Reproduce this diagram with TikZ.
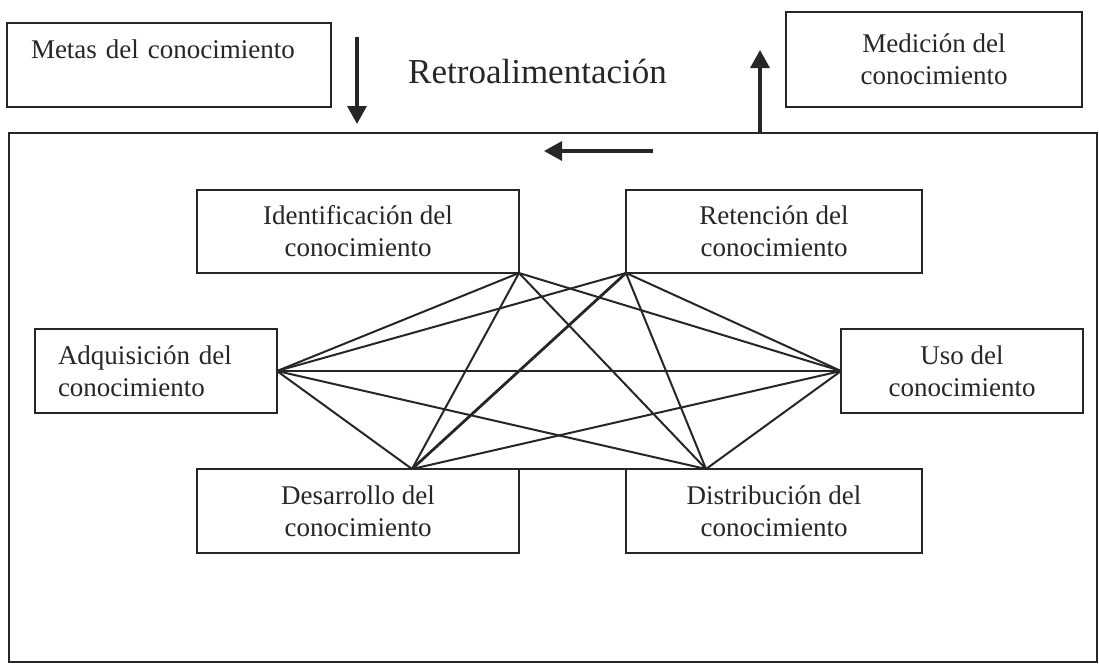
\documentclass[tikz,border=0pt]{standalone}
\usepackage{fontspec}
\setmainfont{Liberation Serif}
\usetikzlibrary{arrows.meta}
\definecolor{ink}{HTML}{262626}
\begin{document}
\begin{tikzpicture}[x=1pt,y=-1pt,
  box/.style={draw=ink, line width=2pt, outer sep=0pt, inner sep=0pt,
    text=ink, font=\fontsize{27}{32}\selectfont, align=center},
  link/.style={draw=ink, line width=2pt},
  boldlink/.style={draw=ink, line width=2.8pt},
  bigarrow/.style={draw=ink, line width=3.4pt, -{Triangle[length=18pt,width=19pt]}}]
\useasboundingbox (0,0) rectangle (1099,664);

% frame
\node[draw=ink, line width=2pt, outer sep=0pt, inner sep=0pt,
  minimum width=1088pt, minimum height=529pt] (frame) at (553,397.5) {};

% top boxes
\node[box, align=left, inner xsep=24pt, text width=276pt, minimum height=84pt] (metas) at (169,65)
  {Metas del conocimiento\\\mbox{}};
\node[box, minimum width=296pt, minimum height=95pt] (medicion) at (934,59.5)
  {Medición del\\conocimiento};
\node[text=ink, font=\fontsize{35}{42}\selectfont, anchor=base, inner sep=0pt] (retro) at (537.5,83)
  {Retroalimentación};

% inner boxes
\node[box, minimum width=322pt, minimum height=83pt] (ident) at (358,231.5)
  {Identificación del\\conocimiento};
\node[box, minimum width=296pt, minimum height=83pt] (reten) at (774,231.5)
  {Retención del\\conocimiento};
\node[box, align=left, inner xsep=23pt, text width=196pt, minimum height=84pt] (adq) at (156,371)
  {Adquisición del\\conocimiento};
\node[box, minimum width=242pt, minimum height=84pt] (uso) at (962,371)
  {Uso del\\conocimiento};
\node[box, minimum width=322pt, minimum height=84pt] (desa) at (358,511)
  {Desarrollo del\\conocimiento};
\node[box, minimum width=296pt, minimum height=84pt] (dist) at (774,511)
  {Distribución del\\conocimiento};

% connection points
\coordinate (pI) at (ident.south east);
\coordinate (pR) at (reten.south west);
\coordinate (pA) at (adq.east);
\coordinate (pU) at (uso.west);
\coordinate (pD) at ([xshift=54pt]desa.north);
\coordinate (pS) at ([xshift=-68pt]dist.north);

\draw[link] (pI) -- (pA);
\draw[link] (pI) -- (pD);
\draw[link] (pI) -- (pS);
\draw[link] (pI) -- (pU);
\draw[link] (pR) -- (pA);
\draw[boldlink] (pR) -- (pD);
\draw[link] (pR) -- (pS);
\draw[link] (pR) -- (pU);
\draw[boldlink] (pA) -- (pU);
\draw[link] (pA) -- (pD);
\draw[link] (pA) -- (pS);
\draw[link] (pU) -- (pD);
\draw[link] (pU) -- (pS);
\draw[link] (pD) -- (pS);

% feedback arrows
\coordinate (downStart) at (357,37);
\coordinate (downEnd) at (357,124);
\coordinate (upStart) at (760,133);
\coordinate (upEnd) at (760,50);
\coordinate (leftStart) at (653,151);
\coordinate (leftEnd) at (544,151);
\draw[bigarrow] (downStart) -- (downEnd);
\draw[bigarrow] (upStart) -- (upEnd);
\draw[bigarrow] (leftStart) -- (leftEnd);
\end{tikzpicture}
\end{document}
